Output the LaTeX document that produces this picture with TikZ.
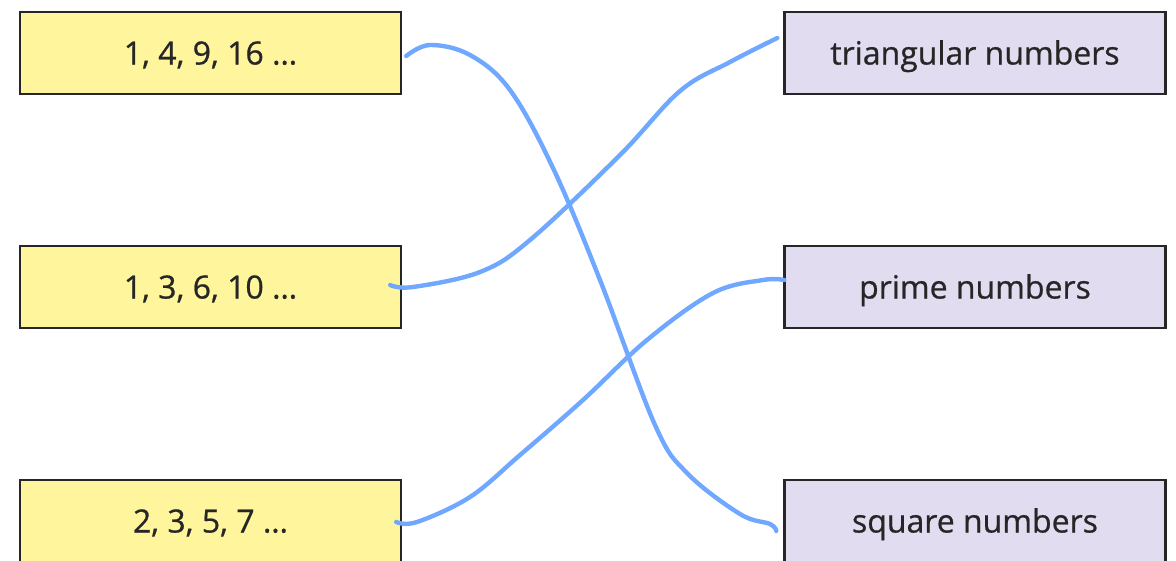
\documentclass[tikz,border=0pt]{standalone}
\usepackage{fontspec}
\setmainfont{Open Sans}[FakeBold=0.7]
\definecolor{yel}{HTML}{FFF59C}
\definecolor{lav}{HTML}{E1DCF0}
\definecolor{edge}{HTML}{262626}
\definecolor{pen}{HTML}{70A8FF}
\tikzset{
  box/.style={draw=edge, line width=2.4pt, minimum width=381pt, minimum height=82pt, inner sep=0pt, text height=23pt, text depth=0pt, font=\fontsize{32}{38}\selectfont, text=black!85},
  lbox/.style={box, fill=yel},
  rbox/.style={box, fill=lav},
  link/.style={pen, line width=4.4pt, line cap=round, line join=round}
}
\begin{document}
\begin{tikzpicture}[x=1pt,y=-1pt]
\useasboundingbox (0,0) rectangle (1176,560);
\clip (0,0) rectangle (1176,560);
\node[lbox] (l1) at (210.5,53) {1, 4, 9, 16 …};
\node[lbox] (l2) at (210.5,287) {1, 3, 6, 10 …};
\node[lbox] (l3) at (210.5,521) {2, 3, 5, 7 …};
\node[rbox] (r1) at (975,53) {triangular numbers};
\node[rbox] (r2) at (975,287) {prime numbers};
\node[rbox] (r3) at (975,521) {square numbers};
\draw[link] plot[smooth, tension=0.6] coordinates {([xshift=4pt,yshift=-3pt]l1.east) (430,45) (470,55) (510,90) (553,168) (600,280) (655,425) (687,473) (740,514) (770,524) ([xshift=-7pt,yshift=-10pt]r3.west)};
\draw[link] plot[smooth, tension=0.6] coordinates {([xshift=-12pt,yshift=2pt]l2.east) (413,287) (480,272) (530,240) (620,155) (680,91) (730,62) ([xshift=-6pt,yshift=15pt]r1.west)};
\draw[link] plot[smooth, tension=0.6] coordinates {([xshift=-6pt,yshift=-1pt]l3.east) (417,522) (470,497) (520,455) (583,400) (647,340) (713,293) (763,280) ([xshift=1pt,yshift=7pt]r2.west)};
\end{tikzpicture}
\end{document}
